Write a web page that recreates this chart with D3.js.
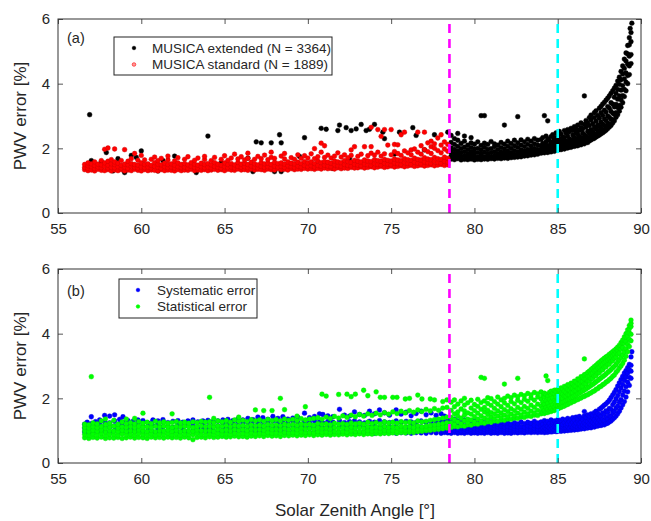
<!DOCTYPE html>
<html>
<head>
<meta charset="utf-8">
<script src="https://cdn.jsdelivr.net/npm/d3@7"></script>
<style>
  body { margin: 0; background: #fff; }
  text { font-family: "Liberation Sans", Arial, Helvetica, sans-serif; }
</style>
</head>
<body>
<div id="chart"></div>
<script>
// Data: each column is [SZA, error, error, ...]

// panel (a) - MUSICA standard (red)
var standardCols = [
  [56.6,1.34,1.41,1.50],[56.8,1.31,1.38,1.46,1.55],[57.0,1.33,1.43,1.52],[57.2,1.30,1.37,1.47,1.58],
  [57.4,1.35,1.42,1.51],[57.6,1.32,1.40,1.49,1.62],[57.8,1.31,1.44,1.55,1.97],[58.0,1.34,1.39,1.48,1.60,2.01],
  [58.2,1.30,1.41,1.52,1.65],[58.4,1.33,1.40,1.50,1.58,1.98],[58.6,1.31,1.43,1.54],[58.8,1.34,1.39,1.47,1.62],
  [59.0,1.30,1.42,1.51,1.96],[59.2,1.33,1.38,1.49,1.60],[59.4,1.31,1.44,1.53,1.68],[59.6,1.35,1.41,1.50,1.84],
  [59.8,1.32,1.39,1.48,1.63],[60.0,1.30,1.43,1.55,1.78],[60.2,1.34,1.40,1.50,1.64],[60.4,1.31,1.42,1.52],
  [60.6,1.33,1.39,1.47,1.66],[60.8,1.32,1.44,1.56,1.73],[61.0,1.30,1.41,1.51,1.62],[61.2,1.34,1.38,1.49,1.69],
  [61.4,1.31,1.43,1.54],[61.6,1.33,1.40,1.50,1.64,1.76],[61.8,1.32,1.42,1.52],[62.0,1.30,1.39,1.48,1.61],
  [62.2,1.34,1.43,1.55,1.71],[62.4,1.31,1.40,1.50],[62.6,1.33,1.42,1.53,1.66],[62.8,1.32,1.38,1.49,1.74],
  [63.0,1.35,1.44,1.56],[63.2,1.31,1.41,1.51,1.63],[63.4,1.33,1.39,1.48,1.70],[63.6,1.32,1.43,1.54],
  [63.8,1.34,1.40,1.50,1.65,1.75],[64.0,1.31,1.42,1.53],[64.2,1.33,1.39,1.49,1.62],[64.4,1.35,1.44,1.56,1.72],
  [64.6,1.32,1.41,1.51],[64.8,1.34,1.38,1.48,1.66],[65.0,1.31,1.43,1.55,1.77],[65.2,1.35,1.40,1.50,1.63],
  [65.4,1.33,1.42,1.53,1.70],[65.6,1.32,1.39,1.49,1.82],[65.8,1.36,1.44,1.56,1.67],[66.0,1.33,1.41,1.51,1.74],
  [66.2,1.34,1.43,1.54,1.64],[66.4,1.32,1.40,1.50,1.69,1.85],[66.6,1.36,1.45,1.57],[66.8,1.33,1.42,1.52,1.66],
  [67.0,1.35,1.39,1.49,1.75],[67.2,1.34,1.44,1.56,1.68],[67.4,1.32,1.41,1.52,1.79],[67.6,1.36,1.43,1.54,1.65],
  [67.8,1.34,1.40,1.50,1.72,1.88],[68.0,1.33,1.45,1.57,1.69],[68.2,1.37,1.42,1.53],[68.4,1.34,1.44,1.55,1.76],
  [68.6,1.35,1.41,1.51,1.67,1.84],[68.8,1.33,1.46,1.58],[69.0,1.37,1.43,1.54,1.71],[69.2,1.34,1.40,1.52,1.66],
  [69.4,1.36,1.45,1.57,1.80],[69.6,1.35,1.42,1.53,1.69],[69.8,1.38,1.47,1.59,1.77],[70.0,1.36,1.43,1.55,1.70],
  [70.2,1.37,1.46,1.58,1.83],[70.4,1.35,1.42,1.53,1.68,1.99],[70.6,1.38,1.47,1.60,1.74],[70.8,1.36,1.44,1.56,1.88,2.16],
  [71.0,1.39,1.48,1.59,1.72,2.08],[71.2,1.37,1.45,1.57,1.79],[71.4,1.38,1.43,1.54,1.70],[71.6,1.36,1.49,1.61,1.76],
  [71.8,1.40,1.46,1.58,1.86],[72.0,1.37,1.44,1.56,1.73],[72.2,1.39,1.50,1.62,1.80],[72.4,1.38,1.47,1.59,1.71],
  [72.6,1.41,1.45,1.57,1.78,1.95],[72.8,1.39,1.51,1.63,2.05],[73.0,1.40,1.48,1.60,1.75],[73.2,1.42,1.46,1.58,1.82],
  [73.4,1.39,1.52,1.64,2.05],[73.6,1.41,1.49,1.61,1.77],[73.8,1.43,1.47,1.59,1.85,2.05,2.65],[74.0,1.40,1.53,1.65,1.79],
  [74.2,1.42,1.50,1.62,1.88,2.58],[74.4,1.44,1.48,1.60,1.76,2.37],[74.6,1.41,1.54,1.66,1.83,2.58],[74.8,1.43,1.51,1.63,2.10],
  [75.0,1.45,1.49,1.61,1.80,2.58],[75.2,1.42,1.55,1.67,1.90,2.12],[75.4,1.44,1.52,1.64,1.84,2.11],[75.6,1.46,1.50,1.62,1.78,2.42],
  [75.8,1.43,1.56,1.68,1.92,2.50],[76.0,1.45,1.53,1.65,1.86],[76.2,1.47,1.51,1.63,1.80,1.95],[76.4,1.44,1.57,1.70,1.98],
  [76.6,1.46,1.54,1.66,1.88,2.50],[76.8,1.48,1.52,1.64,1.82,2.08],[77.0,1.45,1.58,1.71,1.96,2.50],[77.2,1.47,1.55,1.67,1.90,2.17],
  [77.4,1.49,1.53,1.65,1.84,2.22,2.05],[77.6,1.46,1.59,1.72,2.00,2.14],[77.8,1.48,1.56,1.68,1.93,2.32],[78.0,1.50,1.54,1.66,1.86,2.42,2.10],
  [78.2,1.47,1.60,1.73,1.98,2.20],[78.4,1.49,1.57,1.69,1.91,2.12]
];

// panel (a) - MUSICA extended (black): points below 78.5 deg mostly sit under the red ones
var extendedCols = [
  [56.7,1.40],[56.9,3.04],[57.0,1.62],[57.6,1.58],[57.9,1.87],[58.1,1.52],[58.3,1.30],[58.6,1.68],[59.0,1.25],
  [59.4,1.78],[59.7,1.72],[60.0,1.92],[61.0,1.30],[61.3,1.62],[62.0,1.76],[63.3,1.25],[64.0,2.38],[64.8,1.55],
  [65.7,1.48],[66.4,1.70],[66.7,1.28],[66.9,2.20],[67.2,2.17],[67.8,2.17],[68.0,1.28],[68.3,2.42],[68.4,1.28,2.17],
  [69.5,1.75],[69.8,2.33],[70.8,2.62],[71.1,2.59],[71.5,1.38],[71.8,2.55],[71.9,2.72],[72.3,2.64],[72.5,1.68],
  [72.6,2.55],[72.9,2.60],[73.2,2.74],[73.5,2.55],[73.7,2.59],[74.0,2.74],[74.5,2.50],[74.6,2.30],[75.2,1.82],
  [75.5,2.50],[76.3,2.64],[76.5,2.40],[77.0,1.95],[77.6,2.42],[78.4,2.50],
  [78.6,1.67,1.76,1.88,2.01,2.18,2.40],[78.8,1.65,1.73,1.84,1.97,2.12,2.30],[79.0,1.68,1.79,1.91,2.06,2.25,2.46],
  [79.2,1.64,1.74,1.86,1.99,2.15],[79.4,1.66,1.77,1.90,2.04,2.22,2.38],[79.6,1.65,1.72,1.83,1.96,2.10],
  [79.8,1.67,1.78,1.89,2.02,2.17,2.33],[80.0,1.64,1.75,1.85,1.98,2.13],[80.2,1.66,1.73,1.87,2.00,2.20],
  [80.4,1.65,1.76,1.82,1.95,2.09,3.01],[80.6,1.67,1.74,1.88,2.03,2.16,3.01],[80.8,1.66,1.77,1.84,1.97,2.12],
  [81.0,1.68,1.73,1.86,1.99,2.21],[81.2,1.67,1.78,1.90,2.05,2.14],[81.4,1.69,1.75,1.83,1.96,2.10],
  [81.6,1.68,1.79,1.88,2.02,2.18],[81.8,1.70,1.76,1.85,1.98,2.13,2.72],[82.0,1.69,1.80,1.91,2.06,2.22],
  [82.2,1.71,1.77,1.87,2.00,2.15],[82.4,1.72,1.81,1.93,2.08,2.25],[82.6,1.73,1.79,1.89,2.03,2.17,2.98],
  [82.8,1.74,1.83,1.95,2.10,2.26],[83.0,1.76,1.81,1.91,2.05,2.20],[83.2,1.77,1.85,1.97,2.12,2.28],
  [83.4,1.79,1.84,1.94,2.07,2.22],[83.6,1.80,1.88,2.00,2.14,2.30],[83.8,1.82,1.87,1.97,2.10,2.25],
  [84.0,1.85,1.96,2.08,2.27],[84.1,1.88,2.01,2.15,2.33],[84.2,1.86,1.93,2.12,3.01],[84.3,1.90,2.04,2.20,2.38],
  [84.4,1.87,1.99,2.09,2.29,2.85],[84.5,1.92,2.06,2.24],[84.6,1.89,1.97,2.14,2.36],[84.7,1.93,2.03,2.19,2.42],
  [84.8,1.91,2.08,2.27,2.33],[84.9,1.95,2.01,2.16,2.48],[85.0,1.94,2.06,2.23,2.39],[85.1,1.98,2.12,2.30,2.52],
  [85.2,1.96,2.04,2.18,2.44],[85.3,2.00,2.10,2.27,2.35],[85.4,1.98,2.15,2.33,2.55],[85.5,2.02,2.08,2.22,2.47],
  [85.6,2.01,2.13,2.38,2.58],[85.7,2.04,2.19,2.29,2.51],[85.8,2.03,2.11,2.26,2.62],[85.9,2.07,2.17,2.41,2.55],
  [86.0,2.06,2.23,2.34,2.67],[86.1,2.09,2.15,2.30,2.48,2.60],[86.2,2.08,2.21,2.44,2.72],[86.3,2.12,2.27,2.37,2.56],
  [86.4,2.11,2.19,2.33,2.65,2.79],[86.5,2.15,2.26,2.47,2.60],[86.6,2.14,2.31,2.42,2.74,3.62],[86.7,2.19,2.24,2.38,2.66,2.86],
  [86.8,2.18,2.34,2.53,2.79],[86.9,2.23,2.29,2.47,2.70,2.95],[87.0,2.26,2.40,2.58,2.88,3.03],[87.1,2.29,2.36,2.52,2.76],
  [87.2,2.31,2.45,2.66,2.95,3.10],[87.3,2.35,2.43,2.60,2.84,3.16],[87.4,2.38,2.55,2.72,3.02],[87.5,2.41,2.50,2.68,2.93,3.24],
  [87.6,2.45,2.62,2.81,3.10,3.30],[87.7,2.48,2.57,2.75,3.02,3.37],[87.8,2.52,2.70,2.91,3.18,3.42],[87.9,2.56,2.66,2.86,3.12,3.49],
  [88.0,2.61,2.78,3.00,3.29,3.55],[88.1,2.66,2.75,2.96,3.24,3.62],[88.2,2.71,2.90,3.14,3.41,3.70],[88.3,2.78,2.88,3.09,3.37,3.78],
  [88.4,2.85,3.05,3.28,3.58,3.86],[88.5,2.96,3.10,3.36,3.70,3.95],[88.6,3.04,3.26,3.52,3.82,4.08],[88.7,3.15,3.33,3.62,3.98,4.20],
  [88.8,3.27,3.50,3.80,4.12,4.38],[88.9,3.41,3.63,3.94,4.30,4.55],[89.0,3.60,3.82,4.15,4.47,4.76],[89.1,3.78,4.05,4.33,4.70,4.95],
  [89.2,4.00,4.25,4.60,4.92,5.18],[89.3,4.28,4.55,4.85,5.20,5.42],[89.35,5.71],[89.4,4.62,4.90,5.30,5.58],[89.45,5.87]
];

// panel (b) - systematic error (blue)
var systematicCols = [
  [56.6,0.96,1.08,1.20],[56.75,0.98,1.12,1.26],[57.0,0.95,1.10,1.22,1.43],[57.25,1.00,1.14,1.28],
  [57.5,0.97,1.09,1.21,1.33],[57.8,0.99,1.13,1.27,1.47],[58.1,0.96,1.11,1.24,1.45],[58.4,1.01,1.15,1.30,1.49],
  [58.7,0.97,1.08,1.22,1.35],[58.9,0.99,1.12,1.26,1.43],[59.2,0.96,1.10,1.23,1.31],[59.5,1.00,1.14,1.29],
  [59.8,0.98,1.09,1.21,1.33],[60.1,0.97,1.13,1.27,1.31],[60.4,1.00,1.11,1.24],[60.7,0.96,1.15,1.30,1.33],
  [61.0,0.99,1.08,1.22,1.30],[61.3,0.97,1.12,1.27,1.34],[61.6,1.01,1.14,1.25],[61.9,0.98,1.10,1.29],
  [62.2,0.96,1.13,1.23,1.31],[62.5,1.00,1.09,1.26],[62.8,0.97,1.15,1.28,1.30],[63.1,0.99,1.11,1.24,1.33],
  [63.4,0.96,1.08,1.27],[63.7,1.01,1.14,1.22,1.30],[64.0,0.98,1.12,1.29,1.32],[64.3,0.97,1.10,1.25,1.28],
  [64.6,1.00,1.15,1.30],[64.9,0.96,1.09,1.23,1.33],[65.2,0.99,1.13,1.27,1.35],[65.5,0.97,1.11,1.24,1.31],
  [65.8,1.01,1.14,1.28,1.36],[66.1,0.98,1.08,1.22,1.33],[66.4,0.96,1.12,1.26,1.38],[66.7,1.00,1.15,1.29,1.34],
  [67.0,0.97,1.10,1.25,1.42],[67.3,0.99,1.13,1.28,1.40],[67.6,0.96,1.09,1.23,1.35],[67.9,1.01,1.14,1.30,1.44],
  [68.2,0.95,1.11,1.26,1.38],[68.5,0.98,1.12,1.27,1.43],[68.8,0.94,1.08,1.24,1.36],[69.1,0.97,1.15,1.29,1.39],
  [69.4,0.95,1.10,1.25,1.41],[69.8,0.98,1.13,1.28,1.54],[70.1,0.94,1.09,1.26,1.40],[70.4,0.96,1.14,1.30,1.44],
  [70.7,0.93,1.11,1.27,1.52],[70.9,0.95,1.08,1.24,1.50],[71.2,0.94,1.12,1.29,1.46],[71.5,0.96,1.10,1.26,1.43],
  [71.9,0.93,1.13,1.31,1.66],[72.2,0.95,1.09,1.25,1.48],[72.5,0.94,1.12,1.28,1.45],[72.8,0.92,1.10,1.30,1.58],
  [73.1,0.95,1.14,1.27,1.50],[73.4,0.93,1.08,1.24,1.47],[73.7,0.94,1.11,1.29,1.60],[74.0,0.92,0.98,1.13,1.26,1.52],
  [74.3,0.95,1.09,1.31,1.64],[74.6,0.93,0.99,1.12,1.27,1.55],[74.9,0.94,1.10,1.25,1.48],[75.3,0.92,0.98,1.13,1.30,1.64],
  [75.6,0.94,1.08,1.26,1.51],[75.9,0.93,0.99,1.11,1.29,1.57],[76.2,0.92,0.98,1.14,1.27,1.46],[76.5,0.94,1.00,1.09,1.25,1.53],
  [76.8,0.93,0.98,1.12,1.30,1.60],[77.1,0.92,0.99,1.10,1.26,1.49],[77.4,0.94,1.00,1.13,1.28,1.55],[77.7,0.93,0.98,1.08,1.24,1.47],
  [78.0,0.92,0.99,1.11,1.29,1.52],[78.2,0.94,1.00,1.14,1.27,1.45],
  [78.4,0.93,0.99,1.07,1.18,1.32],[78.6,0.92,0.98,1.05,1.14,1.27],[78.8,0.94,1.00,1.09,1.21,1.36],
  [79.0,0.92,0.97,1.04,1.13,1.30],[79.2,0.93,0.99,1.08,1.19,1.25],[79.4,0.92,0.98,1.05,1.15,1.33],
  [79.6,0.94,1.00,1.07,1.17,1.28],[79.8,0.92,0.97,1.04,1.12,1.24],[80.0,0.93,0.99,1.06,1.16,1.31],
  [80.2,0.92,0.98,1.05,1.13,1.22],[80.4,0.93,1.00,1.08,1.18,1.29],[80.6,0.92,0.97,1.04,1.12,1.25],
  [80.8,0.94,0.99,1.06,1.15,1.21],[81.0,0.92,0.98,1.05,1.11,1.27],[81.2,0.93,1.00,1.07,1.16,1.23],
  [81.4,0.92,0.97,1.03,1.12,1.20],[81.6,0.94,0.99,1.06,1.14,1.26],[81.8,0.92,0.98,1.04,1.11,1.22],
  [82.0,0.93,0.99,1.05,1.13,1.24],[82.2,0.92,0.97,1.03,1.10,1.19],[82.4,0.94,1.00,1.06,1.14,1.25],
  [82.6,0.93,0.98,1.04,1.12,1.21],[82.8,0.94,0.99,1.05,1.13,1.27],[83.0,0.93,0.98,1.04,1.11,1.22],
  [83.2,0.95,1.00,1.06,1.15,1.26],[83.4,0.94,0.99,1.05,1.12,1.23],[83.6,0.95,1.01,1.07,1.16,1.29],
  [83.8,0.94,0.99,1.05,1.13,1.24],
  [84.0,0.95,1.03,1.14,1.27],[84.1,0.97,1.08,1.20],[84.2,0.94,1.01,1.11,1.31],[84.3,0.96,1.06,1.17,1.24],
  [84.4,0.95,1.02,1.13,1.29],[84.5,0.98,1.09,1.22],[84.6,0.96,1.04,1.15,1.33],[84.7,0.97,1.07,1.19,1.26],
  [84.8,0.99,1.03,1.12,1.30],[84.9,0.97,1.10,1.21],[85.0,0.98,1.05,1.16,1.34],[85.1,1.00,1.08,1.23,1.28],
  [85.2,0.98,1.04,1.14,1.31],[85.3,1.01,1.11,1.19,1.36],[85.4,0.99,1.06,1.25],[85.5,1.02,1.09,1.17,1.33],
  [85.6,1.00,1.12,1.22,1.38],[85.7,1.03,1.07,1.28],[85.8,1.01,1.13,1.20,1.35],[85.9,1.04,1.10,1.26,1.40],
  [86.0,1.02,1.08,1.17,1.32],[86.1,1.05,1.14,1.24,1.42],[86.2,1.03,1.11,1.30,1.37],[86.3,1.06,1.16,1.22,1.44],
  [86.4,1.05,1.12,1.27,1.39],[86.5,1.08,1.18,1.34],[86.6,1.06,1.14,1.25,1.46,1.59],[86.7,1.09,1.20,1.31,1.41],
  [86.8,1.08,1.16,1.28,1.49],[86.9,1.11,1.22,1.36,1.45],[87.0,1.09,1.18,1.30,1.52],[87.1,1.13,1.25,1.40,1.48],
  [87.2,1.11,1.21,1.34,1.56],[87.3,1.15,1.28,1.45,1.60],[87.4,1.14,1.24,1.39,1.53],[87.5,1.17,1.32,1.49,1.66],
  [87.6,1.16,1.27,1.44,1.70],[87.7,1.19,1.35,1.55,1.74],[87.8,1.18,1.31,1.50,1.79],[87.9,1.22,1.40,1.61,1.83],
  [88.0,1.23,1.36,1.57,1.88],[88.1,1.27,1.46,1.69,1.94],[88.2,1.30,1.43,1.66,2.02],[88.3,1.35,1.55,1.80,2.10],
  [88.4,1.40,1.60,1.88,2.18],[88.5,1.45,1.70,1.98,2.27],[88.6,1.52,1.76,2.08,2.38],[88.7,1.60,1.88,2.20,2.48],
  [88.8,1.70,1.96,2.32,2.58],[88.9,1.80,2.10,2.43,2.68],[89.0,1.90,2.22,2.56,2.78],[89.1,2.04,2.36,2.66,2.86],
  [89.2,2.20,2.50,2.78,2.95],[89.3,2.40,2.65,2.88,3.05],[89.4,2.62,2.84,3.02,3.28],[89.45,3.44]
];

// panel (b) - statistical error (green)
var statisticalCols = [
  [56.6,0.78,0.88,0.99,1.10,1.20],[56.85,0.76,0.86,0.97,1.08,1.18],[57.0,2.67],[57.1,0.79,0.90,1.01,1.12,1.24],
  [57.35,0.77,0.87,0.98,1.09,1.21],[57.6,0.80,0.91,1.02,1.13,1.30],[57.85,0.76,0.85,0.96,1.07,1.19,1.36],
  [58.1,0.78,0.89,1.00,1.11,1.23],[58.35,0.77,0.88,0.99,1.14,1.32],[58.6,0.79,0.86,0.97,1.08,1.20],
  [58.85,0.76,0.90,1.01,1.12,1.27],[59.1,0.78,0.87,0.98,1.10,1.22,1.36],[59.35,0.80,0.89,1.00,1.13,1.25],
  [59.6,0.77,0.86,0.97,1.09,1.21,1.38],[59.85,0.79,0.91,1.02,1.14,1.28],[60.1,0.78,0.88,0.99,1.11,1.23,1.54],
  [60.35,0.76,0.87,0.98,1.12,1.26],[60.6,0.80,0.90,1.01,1.10,1.22],[60.85,0.78,0.86,0.97,1.13,1.29],
  [61.1,0.79,0.89,1.00,1.11,1.24],[61.35,0.77,0.88,0.99,1.14,1.27],[61.6,0.80,0.91,1.02,1.12,1.23],
  [61.85,0.78,0.87,0.98,1.10,1.25,1.52],[62.1,0.79,0.90,1.01,1.13,1.28],[62.35,0.77,0.86,0.97,1.11,1.24],
  [62.6,0.80,0.89,1.00,1.14,1.26],[62.85,0.78,0.88,0.99,1.12,1.23],[63.1,0.72,0.87,0.98,1.10,1.27],
  [63.35,0.79,0.91,1.02,1.13,1.25],[63.6,0.80,0.89,1.00,1.15,1.29],[63.85,0.78,0.87,0.99,1.12,1.26],
  [64.1,0.81,0.90,1.01,1.14,1.28,2.03],[64.35,0.79,0.88,0.98,1.11,1.24,1.38],[64.6,0.80,0.91,1.03,1.15,1.30],
  [64.85,0.82,0.89,1.00,1.13,1.27],[65.1,0.80,0.90,1.02,1.16,1.31],[65.35,0.81,0.88,0.99,1.12,1.26],
  [65.6,0.83,0.92,1.04,1.17,1.33],[65.85,0.81,0.90,1.01,1.14,1.29,1.42],[66.1,0.82,0.91,1.03,1.16,1.32],
  [66.35,0.80,0.89,1.00,1.13,1.28],[66.6,0.83,0.93,1.05,1.18,1.34],[66.85,0.82,0.90,1.02,1.15,1.30,1.64],
  [67.1,0.84,0.92,1.04,1.17,1.33],[67.35,0.82,0.91,1.01,1.14,1.29,1.62],[67.6,0.85,0.94,1.06,1.19,1.35],
  [67.85,0.83,0.92,1.03,1.16,1.31,1.62],[68.1,0.84,0.93,1.05,1.18,1.34],[68.35,0.82,0.91,1.02,1.15,1.30,2.00],
  [68.6,0.85,0.95,1.07,1.20,1.36,1.65],[68.85,0.84,0.93,1.04,1.17,1.32],[69.1,0.86,0.94,1.06,1.19,1.35],
  [69.35,0.84,0.92,1.03,1.16,1.31,1.45],[69.6,0.86,0.96,1.08,1.21,1.37],[69.85,0.85,0.94,1.05,1.18,1.33,1.74],
  [70.1,0.87,0.95,1.07,1.20,1.36],[70.35,0.85,0.93,1.04,1.17,1.38],[70.6,0.87,0.97,1.09,1.22,1.40],
  [70.85,0.86,0.95,1.06,1.19,1.35,2.13],[71.1,0.88,0.96,1.08,1.21,1.42,2.07],[71.35,0.86,0.94,1.05,1.18,1.37],
  [71.6,0.88,0.98,1.10,1.23,1.44],[71.85,0.87,0.96,1.07,1.20,1.39,2.12],[72.1,0.89,0.97,1.09,1.22,1.46],
  [72.35,0.87,0.95,1.06,1.19,1.41,2.13],[72.6,0.89,0.99,1.11,1.24,1.48,2.05],[72.85,0.88,0.97,1.08,1.21,1.43,2.13],
  [73.1,0.90,0.98,1.10,1.23,1.50],[73.35,0.88,0.96,1.07,1.20,1.45,2.25],[73.6,0.90,1.00,1.12,1.26,1.52,2.08],
  [73.85,0.89,0.98,1.09,1.22,1.47],[74.1,0.91,0.99,1.11,1.25,1.54,2.20],[74.35,0.90,0.97,1.08,1.21,1.49,2.03],
  [74.6,0.92,1.01,1.13,1.27,1.56,2.03],[74.85,0.91,0.99,1.10,1.24,1.51],[75.1,0.93,1.00,1.12,1.26,1.58,2.03],
  [75.35,0.92,0.98,1.09,1.23,1.53,2.03],[75.6,0.94,1.02,1.14,1.28,1.60],[75.85,0.93,1.00,1.11,1.25,1.55,1.98],
  [76.1,0.95,1.01,1.13,1.27,1.62,2.00],[76.35,0.94,0.99,1.10,1.24,1.57],[76.6,0.97,1.03,1.15,1.30,1.64,2.10],
  [76.85,0.98,1.02,1.12,1.27,1.59,1.98],[77.1,1.00,1.04,1.14,1.29,1.66],[77.35,1.01,1.06,1.16,1.32,1.61,1.98],
  [77.6,1.03,1.08,1.18,1.34,1.68,1.95],[77.85,1.04,1.10,1.20,1.36,1.63],[78.1,1.06,1.12,1.22,1.39,1.70,1.90],
  [78.35,1.08,1.14,1.25,1.42,1.72,1.95],
  [78.6,1.10,1.25,1.41,1.63,1.88],[78.8,1.13,1.19,1.34,1.52,1.74,1.95],[79.0,1.12,1.28,1.45,1.58,1.82],
  [79.2,1.15,1.22,1.39,1.67,1.92],[79.4,1.14,1.31,1.48,1.61,1.79,2.00],[79.6,1.18,1.25,1.36,1.55,1.86],
  [79.8,1.17,1.33,1.51,1.70,1.94],[80.0,1.21,1.27,1.43,1.62,1.81],[80.2,1.20,1.36,1.54,1.75,1.97],
  [80.4,1.24,1.30,1.46,1.66,1.87,2.65],[80.6,1.23,1.39,1.58,1.72,1.92,2.62],[80.8,1.27,1.34,1.50,1.63,1.84,2.02],
  [81.0,1.26,1.42,1.56,1.78,1.99],[81.2,1.30,1.37,1.52,1.69,1.90],[81.4,1.29,1.45,1.61,1.82,2.04],
  [81.6,1.33,1.40,1.55,1.74,1.95],[81.8,1.32,1.48,1.65,1.86,2.00,2.44],[82.0,1.36,1.43,1.59,1.78,2.07],
  [82.2,1.35,1.51,1.68,1.90,2.02],[82.4,1.39,1.46,1.62,1.83,2.10],[82.6,1.38,1.54,1.72,1.94,2.05,2.62],
  [82.8,1.42,1.49,1.66,1.87,2.12],[83.0,1.41,1.57,1.75,1.97,2.08],[83.2,1.45,1.52,1.69,1.91,2.15],
  [83.4,1.44,1.60,1.79,2.01,2.11],[83.6,1.48,1.55,1.72,1.94,2.18],[83.8,1.47,1.63,1.82,2.04,2.14],
  [84.0,1.52,1.59,1.76,1.98,2.20],[84.1,1.55,1.69,1.88,2.09],[84.2,1.53,1.62,1.81,2.03,2.16],
  [84.3,1.57,1.72,1.93,2.12,2.69],[84.4,1.56,1.66,1.85,2.07,2.55],[84.5,1.60,1.75,1.97,2.18],
  [84.6,1.59,1.69,1.89,2.11,2.22],[84.7,1.63,1.79,2.01,2.16],[84.8,1.62,1.73,1.93,2.14,2.25],
  [84.9,1.66,1.78,1.90,2.05,2.21],[85.0,1.67,1.77,1.98,2.12,2.28],[85.1,1.70,1.82,1.95,2.09,2.25],
  [85.2,1.72,1.86,2.02,2.16,2.32],[85.3,1.75,1.88,2.00,2.13,2.29],[85.4,1.76,1.90,2.07,2.22,2.37],
  [85.5,1.80,1.93,2.06,2.18,2.34],[85.6,1.81,1.96,2.12,2.27,2.42],[85.7,1.85,1.98,2.11,2.25,2.40],
  [85.8,1.86,2.02,2.18,2.32,2.47],[85.9,1.90,2.04,2.17,2.31,2.45],[86.0,1.91,2.08,2.24,2.38,2.53],
  [86.1,1.95,2.10,2.23,2.37,2.51],[86.2,1.96,2.14,2.30,2.45,2.60],[86.3,2.00,2.16,2.30,2.44,2.58],
  [86.4,2.01,2.20,2.37,2.52,2.67],[86.5,2.05,2.22,2.37,2.52,2.66],[86.6,2.06,2.26,2.45,2.60,2.73,3.22],
  [86.7,2.10,2.29,2.45,2.60,2.75],[86.8,2.11,2.33,2.53,2.68,2.80],[86.9,2.15,2.36,2.53,2.69,2.84],
  [87.0,2.17,2.40,2.61,2.76,2.89],[87.1,2.21,2.43,2.61,2.78,2.93],[87.2,2.23,2.47,2.69,2.85,2.98],
  [87.3,2.28,2.51,2.70,2.87,3.02],[87.4,2.30,2.55,2.78,2.94,3.07],[87.5,2.35,2.59,2.79,2.96,3.11],
  [87.6,2.37,2.63,2.87,3.03,3.16],[87.7,2.42,2.67,2.88,3.05,3.20],[87.8,2.45,2.71,2.96,3.11,3.24],
  [87.9,2.50,2.75,2.97,3.14,3.28],[88.0,2.53,2.80,3.05,3.19,3.31],[88.1,2.58,2.84,3.06,3.22,3.36],
  [88.2,2.62,2.89,3.14,3.28,3.40],[88.3,2.68,2.94,3.16,3.32,3.44],[88.4,2.72,2.99,3.24,3.37,3.48],
  [88.5,2.80,3.05,3.27,3.42,3.53],[88.6,2.86,3.12,3.37,3.49,3.58],[88.7,2.94,3.19,3.40,3.55,3.64],
  [88.8,3.00,3.27,3.52,3.63,3.72],[88.9,3.08,3.34,3.57,3.71,3.80],[89.0,3.18,3.43,3.70,3.80,3.90],
  [89.1,3.30,3.54,3.76,3.90,4.00],[89.2,3.44,3.67,3.93,4.03,4.12],[89.3,3.60,3.82,4.02,4.15,4.25],
  [89.4,3.78,3.98,4.22,4.32,4.42]
];

var xTicks = [55, 60, 65, 70, 75, 80, 85, 90];
var yTicks = [0, 2, 4, 6];
var cutoffs = [78.5, 85];   // magenta, cyan

// Chart area
var svgWidth = 651;
var svgHeight = 521;
var margin = {left: 58, right: 10};
var panelHeight = 194;
var axisColor = '#262626';

var svg = d3.select('#chart')
  .append('svg')
  .attr('width', svgWidth)
  .attr('height', svgHeight);

var x = d3.scaleLinear().domain([55, 90]).range([margin.left, svgWidth - margin.right]);

// flatten [sza, e1, e2, ...] columns into points
function toPoints(cols) {
  return cols.flatMap(function(c) {
    return c.slice(1).map(function(e) { return {sza: c[0], err: e}; });
  });
}

var panels = [
  {
    top: 19, tag: '(a)', tagY: 43,
    layers: [
      {cols: extendedCols, fill: '#000000', stroke: '#000000'},
      {cols: standardCols, fill: '#ff0000', stroke: '#c80000'}
    ],
    legend: {x: 114, y: 37, w: 218, h: 38, markX: 134, textX: 152,
      rows: [
        {label: 'MUSICA extended (N = 3364)', fill: '#000000', stroke: '#000000'},
        {label: 'MUSICA standard (N = 1889)', fill: '#ff9a9a', stroke: '#ff0000'}
      ]}
  },
  {
    top: 269, tag: '(b)', tagY: 296,
    layers: [
      {cols: systematicCols, fill: '#0000ff', stroke: '#0000d8'},
      {cols: statisticalCols, fill: '#00ff00', stroke: '#00e000'}
    ],
    legend: {x: 119, y: 279, w: 138, h: 39, markX: 138, textX: 157,
      rows: [
        {label: 'Systematic error', fill: '#0000ff', stroke: '#0000ff'},
        {label: 'Statistical error', fill: '#00ff00', stroke: '#00ff00'}
      ]}
  }
];

panels.forEach(function(p) {
  var bottom = p.top + panelHeight;
  var y = d3.scaleLinear().domain([0, 6]).range([bottom, p.top]);
  var g = svg.append('g');

  // scatter layers
  p.layers.forEach(function(layer) {
    g.append('g')
      .selectAll('circle')
      .data(toPoints(layer.cols))
      .enter()
      .append('circle')
      .attr('cx', function(d) { return x(d.sza); })
      .attr('cy', function(d) { return y(d.err); })
      .attr('r', 2.4)
      .attr('fill', layer.fill)
      .attr('stroke', layer.stroke)
      .attr('stroke-width', 0.4);
  });

  // dashed SZA limits
  g.selectAll('.cut')
    .data(cutoffs)
    .enter()
    .append('line')
    .attr('x1', function(d) { return x(d); })
    .attr('x2', function(d) { return x(d); })
    .attr('y1', y(0))
    .attr('y2', y(6))
    .attr('stroke', function(d, i) { return i === 0 ? '#ff00ff' : '#00ffff'; })
    .attr('stroke-width', 2.6)
    .attr('stroke-dasharray', '9,6');

  // axes
  function styleAxis(a) {
    a.select('.domain').remove();
    a.attr('font-size', 15)
      .attr('font-family', '"Liberation Sans", Arial, sans-serif')
      .attr('color', axisColor);
    a.selectAll('line').attr('stroke', '#555');
  }

  g.append('g')
    .attr('transform', 'translate(0,' + bottom + ')')
    .call(d3.axisBottom(x).tickValues(xTicks).tickSizeInner(-5).tickSizeOuter(0).tickPadding(10))
    .call(styleAxis);

  g.append('g')
    .attr('transform', 'translate(0,' + p.top + ')')
    .call(d3.axisTop(x).tickValues(xTicks).tickSizeInner(-5).tickSizeOuter(0).tickFormat(''))
    .call(styleAxis);

  g.append('g')
    .attr('transform', 'translate(' + margin.left + ',0)')
    .call(d3.axisLeft(y).tickValues(yTicks).tickSizeInner(-5).tickSizeOuter(0).tickPadding(8).tickFormat(d3.format('d')))
    .call(styleAxis);

  g.append('g')
    .attr('transform', 'translate(' + (svgWidth - margin.right) + ',0)')
    .call(d3.axisRight(y).tickValues(yTicks).tickSizeInner(-5).tickSizeOuter(0).tickFormat(''))
    .call(styleAxis);

  g.append('rect')
    .attr('x', margin.left)
    .attr('y', p.top)
    .attr('width', svgWidth - margin.right - margin.left)
    .attr('height', panelHeight)
    .attr('fill', 'none')
    .attr('stroke', '#333')
    .attr('stroke-width', 1);

  // y label
  g.append('text')
    .attr('transform', 'translate(26,' + (p.top + panelHeight / 2) + ') rotate(-90)')
    .attr('text-anchor', 'middle')
    .attr('font-size', 17)
    .attr('fill', axisColor)
    .text('PWV error [%]');

  // panel tag
  g.append('text')
    .attr('x', 67)
    .attr('y', p.tagY)
    .attr('font-size', 14.5)
    .attr('fill', axisColor)
    .text(p.tag);

  // legend
  var lg = p.legend;
  g.append('rect')
    .attr('x', lg.x).attr('y', lg.y)
    .attr('width', lg.w).attr('height', lg.h)
    .attr('fill', '#fff')
    .attr('stroke', '#222')
    .attr('stroke-width', 1);

  var rows = g.selectAll('.lrow')
    .data(lg.rows)
    .enter()
    .append('g')
    .attr('transform', function(d, i) { return 'translate(0,' + (lg.y + 11 + i * 16.5) + ')'; });

  rows.append('circle')
    .attr('cx', lg.markX)
    .attr('cy', 0)
    .attr('r', 1.8)
    .attr('fill', function(d) { return d.fill; })
    .attr('stroke', function(d) { return d.stroke; })
    .attr('stroke-width', 0.6);

  rows.append('text')
    .attr('x', lg.textX)
    .attr('y', 0)
    .attr('dy', '0.35em')
    .attr('font-size', 13.5)
    .attr('fill', axisColor)
    .text(function(d) { return d.label; });
});

// x label
svg.append('text')
  .attr('x', 275)
  .attr('y', 516)
  .attr('font-size', 17)
  .attr('fill', axisColor)
  .text('Solar Zenith Angle [°]');
</script>
</body>
</html>
